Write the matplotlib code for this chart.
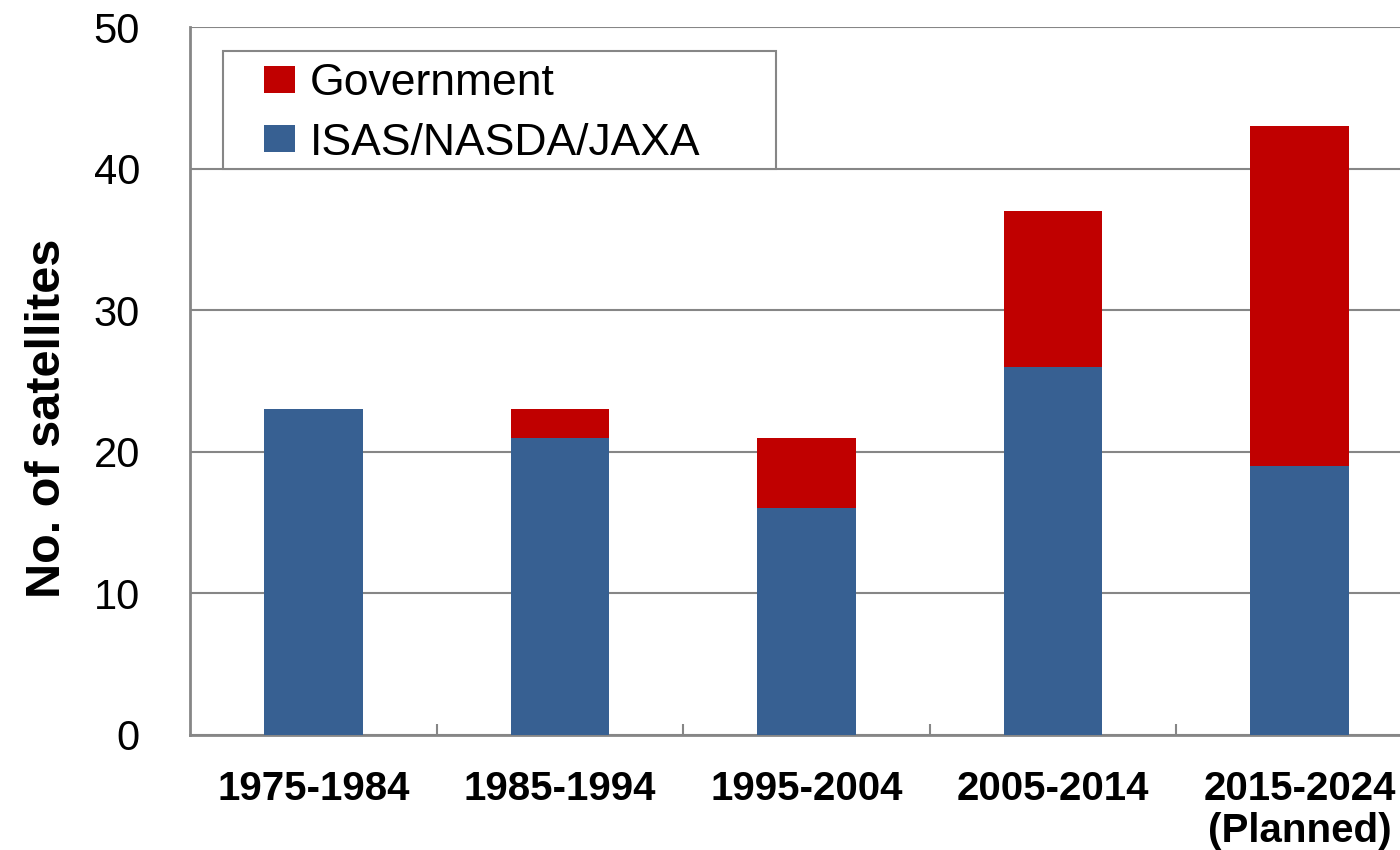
import matplotlib
matplotlib.use("Agg")
import matplotlib.pyplot as plt
from matplotlib.patches import Rectangle
import numpy as np

# data
periods = ["1975-1984", "1985-1994", "1995-2004", "2005-2014", "2015-2024\n(Planned)"]
jaxa = [23, 21, 16, 26, 19]
government = [0, 2, 5, 11, 24]

plt.rcParams['font.family'] = ['Liberation Sans', 'DejaVu Sans']

fig = plt.figure(figsize=(14, 8.5), dpi=100)
# the original chart is cropped on the right, so the axes run past the figure edge
ax = fig.add_axes([190 / 1400, 115 / 850, 1233 / 1400, 708 / 850])

x = np.arange(len(periods))
width = 0.40
blue = "#376092"
red = "#C00000"
grey = "#868686"

b1 = ax.bar(x, jaxa, width, color=blue, label="ISAS/NASDA/JAXA", zorder=3)
b2 = ax.bar(x, government, width, bottom=jaxa, color=red, label="Government", zorder=3)

ax.set_xlim(-0.5, len(periods) - 0.5)
ax.set_ylim(0, 50)
ax.set_yticks(range(0, 51, 10))
ax.yaxis.grid(True, color=grey, linewidth=1.5, zorder=0)
ax.tick_params(axis="y", length=0, labelsize=30, pad=36)

ax.set_xticks(x)
ax.set_xticklabels(periods, fontsize=29, fontweight="bold", linespacing=1.15)
ax.set_xticks(np.arange(0.5, len(periods) - 0.5, 1), minor=True)
ax.tick_params(axis="x", which="major", length=0, pad=25)
ax.tick_params(axis="x", which="minor", direction="in", length=8, width=1.5, color=grey)

for s in ["top", "right"]:
    ax.spines[s].set_visible(False)
for s in ["left", "bottom"]:
    ax.spines[s].set_color(grey)
    ax.spines[s].set_linewidth(2)

ax.set_ylabel("No. of satellites", fontsize=35, fontweight="bold")
ax.yaxis.set_label_coords(-0.097, 0.448)

leg = ax.legend(handles=[b2, b1], loc="upper left", bbox_to_anchor=(74 / 1233, 1 - 36 / 708),
                fontsize=32, frameon=False, borderpad=0,
                handlelength=0.70, handleheight=0.56, handletextpad=0.34, labelspacing=0.42,
                borderaxespad=0)

# legend box drawn separately so it can be sized like the original
ax.add_patch(Rectangle((33 / 1233, 1 - 142 / 708), 553 / 1233, 118 / 708, transform=ax.transAxes,
                       facecolor="white", edgecolor=grey, linewidth=1.5, zorder=4))
leg.set_zorder(5)

fig.savefig("out.png", dpi=100)
